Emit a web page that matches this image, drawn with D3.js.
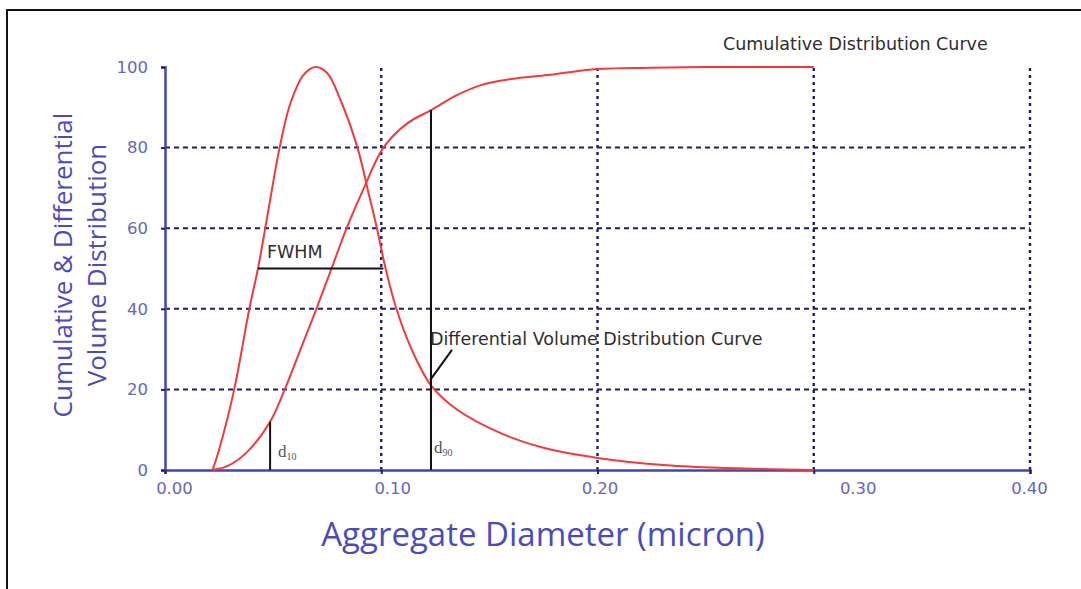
<!DOCTYPE html>
<html>
<head>
<meta charset="utf-8">
<script src="https://cdn.jsdelivr.net/npm/d3@7"></script>
<style>
  body { margin: 0; background: #fff; }
  svg { display: block; }
</style>
</head>
<body>
<svg id="chart" width="1081" height="589"></svg>
<script>
// values
const xTicks = [0, 0.1, 0.2, 0.3, 0.4];
const yTicks = [0, 20, 40, 60, 80, 100];
const xGrid = [0.1, 0.2, 0.3, 0.4];
const yGrid = [20, 40, 60, 80];

const diffX = [0.022, 0.025, 0.032, 0.039, 0.043, 0.047, 0.053, 0.058, 0.064, 0.0695, 0.075, 0.081, 0.089, 0.094, 0.098, 0.102, 0.107, 0.114, 0.123, 0.135, 0.155, 0.175, 0.2, 0.232, 0.26, 0.3];
const diffY = [0, 5, 20, 40, 50, 62, 80, 91, 98, 100, 98.5, 92, 80, 69, 60, 50, 40, 30, 21, 15, 9.2, 5.5, 3, 1.2, 0.5, 0];

const cumX = [0.022, 0.029, 0.038, 0.0486, 0.055, 0.062, 0.07, 0.077, 0.084, 0.092, 0.101, 0.112, 0.123, 0.135, 0.146, 0.16, 0.177, 0.2, 0.225, 0.25, 0.3];
const cumY = [0, 1, 4.5, 12, 19.5, 29, 40, 50, 60, 70, 80, 86, 89.3, 93, 95.5, 97, 98, 99.5, 99.8, 100, 100];

const fwhm = [0.043, 0.101, 50];   // from, to, level
const d10 = [0.0486, 12];           // diameter, height
const d90 = [0.123, 89.3];
const pointer = [[0.1226, 22.3], [0.1327, 29.8]];

const svg = d3.select("#chart");
const blue = "#4444b2";
const navy = "#1e1e66";
const red = "#f23a3a";

const x = d3.scaleLinear().domain([0, 0.4]).range([165, 1030]);
const y = d3.scaleLinear().domain([0, 100]).range([470, 67]);

// outer frame, runs off the right/bottom edge
svg.append("rect")
    .attr("x", 7).attr("y", 10)
    .attr("width", 1100).attr("height", 620)
    .attr("fill", "none").attr("stroke", "#111").attr("stroke-width", 2);

// grid
svg.selectAll("line.hgrid")
    .data(yGrid)
    .enter().append("line")
    .attr("class", "hgrid")
    .attr("x1", x(0)).attr("x2", x(0.4))
    .attr("y1", d => y(d)).attr("y2", d => y(d))
    .attr("stroke", navy).attr("stroke-width", 2)
    .attr("stroke-dasharray", "5,4");

svg.selectAll("line.vgrid")
    .data(xGrid)
    .enter().append("line")
    .attr("class", "vgrid")
    .attr("x1", d => x(d)).attr("x2", d => x(d))
    .attr("y1", y(0)).attr("y2", y(100))
    .attr("stroke", navy).attr("stroke-width", 2.4)
    .attr("stroke-dasharray", "3,4");

// axes
const yAxis = svg.append("g")
    .attr("transform", `translate(${x(0)},0)`)
    .call(d3.axisLeft(y).tickValues(yTicks).tickSize(4).tickPadding(13));

const xAxis = svg.append("g")
    .attr("transform", `translate(0,${y(0)})`)
    .call(d3.axisBottom(x).tickValues(xTicks).tickFormat(d3.format(".2f")).tickSize(4).tickPadding(8));

[yAxis, xAxis].forEach(g => {
    g.select(".domain").attr("stroke", blue).attr("stroke-width", 2.5);
    g.selectAll(".tick line").attr("stroke", navy).attr("stroke-width", 2);
    g.selectAll(".tick text")
        .attr("fill", "#6666bc")
        .style("font-family", "'DejaVu Sans', Verdana, sans-serif")
        .style("font-size", "16.5px");
});
// the original tick labels sit a little right of their ticks
const labelNudge = {0: 9, 0.1: 11, 0.2: 2, 0.3: 44, 0.4: -1};
xAxis.selectAll(".tick text").attr("dx", d => labelNudge[d]);

// curves
const line = d3.line()
    .x(d => x(d[0]))
    .y(d => y(d[1]))
    .curve(d3.curveCatmullRom.alpha(0.5));

svg.append("path")
    .datum(diffX.map((v, i) => [v, diffY[i]]))
    .attr("d", line)
    .attr("fill", "none").attr("stroke", red).attr("stroke-width", 2);

svg.append("path")
    .datum(cumX.map((v, i) => [v, cumY[i]]))
    .attr("d", line)
    .attr("fill", "none").attr("stroke", red).attr("stroke-width", 2);

// annotation lines
const ann = svg.append("g").attr("stroke", "#111").attr("stroke-width", 2);
ann.append("line")
    .attr("x1", x(fwhm[0])).attr("x2", x(fwhm[1]))
    .attr("y1", y(fwhm[2])).attr("y2", y(fwhm[2]));
ann.append("line")
    .attr("x1", x(d10[0])).attr("x2", x(d10[0]))
    .attr("y1", y(0)).attr("y2", y(d10[1]));
ann.append("line")
    .attr("x1", x(d90[0])).attr("x2", x(d90[0]))
    .attr("y1", y(0)).attr("y2", y(d90[1]));
ann.append("line")
    .attr("x1", x(pointer[0][0])).attr("y1", y(pointer[0][1]))
    .attr("x2", x(pointer[1][0])).attr("y2", y(pointer[1][1]));

// annotation text
const note = (tx, ty, s) => svg.append("text")
    .attr("x", tx).attr("y", ty)
    .attr("fill", "#2e2e2e")
    .style("font-family", "'DejaVu Sans', Tahoma, sans-serif")
    .style("font-size", "17.5px")
    .text(s);

note(723, 50, "Cumulative Distribution Curve");
note(430, 345, "Differential Volume Distribution Curve");
note(267, 258, "FWHM");

const sub = (tx, ty, s) => {
    const t = svg.append("text")
        .attr("x", tx).attr("y", ty)
        .attr("fill", "#555")
        .style("font-family", "'Liberation Serif', 'DejaVu Serif', serif")
        .style("font-size", "17px");
    t.append("tspan").text("d");
    t.append("tspan").attr("dy", 3).style("font-size", "10px").text(s);
};
sub(278, 457, "10");
sub(434, 453, "90");

// axis titles
svg.append("text")
    .attr("x", 543).attr("y", 546)
    .attr("text-anchor", "middle")
    .attr("fill", "#4b4bbd")
    .style("font-family", "'Open Sans', 'Noto Sans', sans-serif")
    .style("font-size", "33px")
    .text("Aggregate Diameter (micron)");

const yTitle = svg.append("text")
    .attr("transform", "translate(0,265) rotate(-90)")
    .attr("text-anchor", "middle")
    .attr("fill", "#4b4bbd")
    .style("font-family", "'Open Sans', 'Noto Sans', sans-serif")
    .style("font-size", "26px");
yTitle.append("tspan").attr("x", 0).attr("y", 72).text("Cumulative & Differential");
yTitle.append("tspan").attr("x", 0).attr("y", 106).text("Volume Distribution");
</script>
</body>
</html>
